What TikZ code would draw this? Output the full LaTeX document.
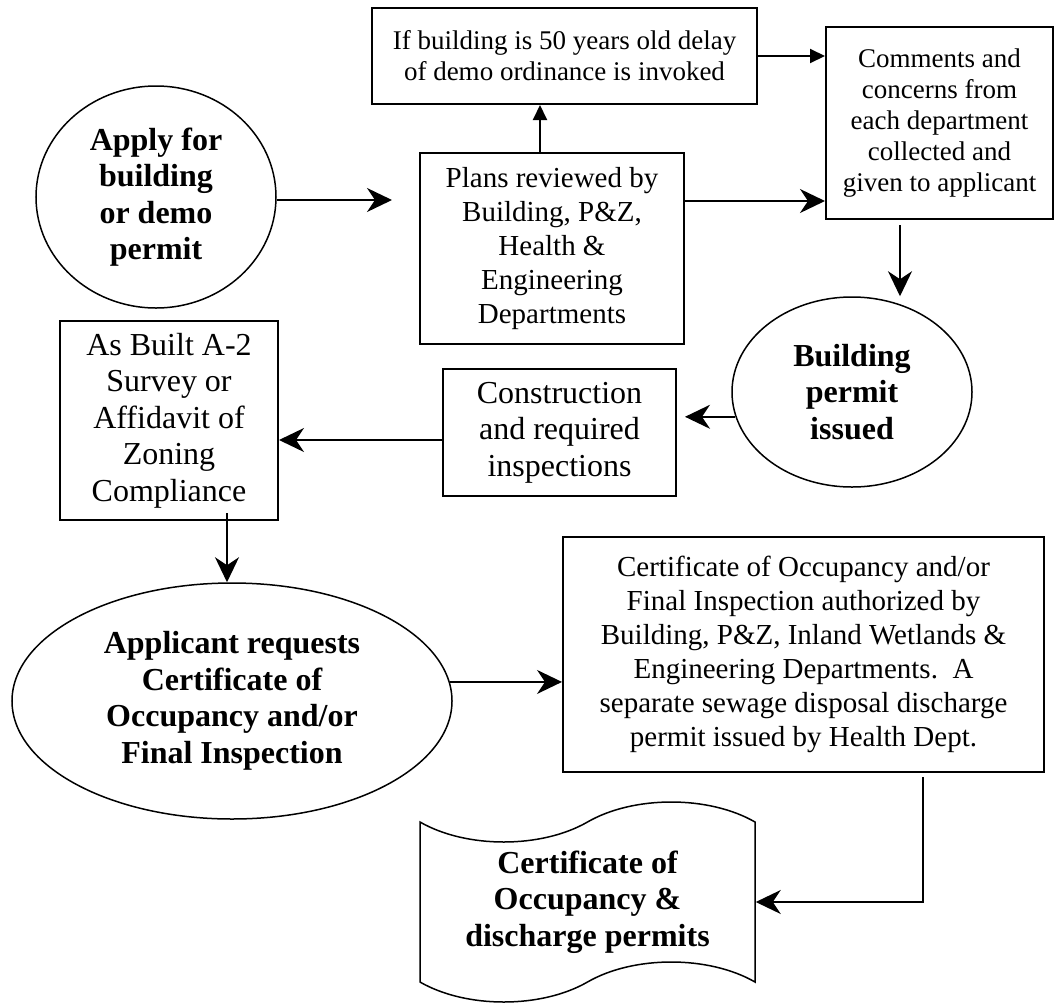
\documentclass[tikz,border=0pt]{standalone}
\usepackage{fontspec}
\setmainfont{Liberation Serif}
\usepackage{tikz}
\usetikzlibrary{positioning, arrows.meta, shapes.geometric, shapes.symbols}

\begin{document}
\begin{tikzpicture}[
    x=1bp, y=-1bp, % pixel units, y runs down
    box/.style={draw, line width=2bp, align=center, inner sep=0pt},
    oval/.style={ellipse, draw, line width=1.5bp, align=center, inner sep=0pt, font=\bfseries\fontsize{32bp}{36.5bp}\selectfont},
    scroll/.style={tape, draw, line width=1.5bp, align=center, inner sep=0pt, tape bend top=in and out, tape bend bottom=in and out, tape bend height=40bp, font=\bfseries\fontsize{32bp}{36.5bp}\selectfont},
    bigtext/.style={font=\fontsize{32bp}{36.5bp}\selectfont},
    midtext/.style={font=\fontsize{29bp}{34bp}\selectfont},
    smalltext/.style={font=\fontsize{27bp}{31bp}\selectfont},
    flow/.style={line width=1.5bp, -{Stealth[length=25bp, width=24bp, inset=8bp]}},
    thinflow/.style={line width=2bp, -{Triangle[length=15bp, width=14bp]}}
]
    \useasboundingbox (0,0) rectangle (1055,1003);

    % Place the nodes
    \node[oval, minimum width=240bp, minimum height=222bp] (apply) at (156,197) {Apply for\\building\\or demo\\permit};
    \node[box, smalltext, minimum width=385bp, minimum height=96bp] (delay) at (564.5,56) {If building is 50 years old delay\\of demo ordinance is invoked};
    \node[box, midtext, minimum width=264bp, minimum height=191bp] (plans) at (552,248.5) {Plans reviewed by\\Building, P\&Z,\\Health \&\\Engineering\\Departments};
    \node[box, smalltext, minimum width=227bp, minimum height=192bp] (comments) at (939.5,123) {Comments and\\concerns from\\each department\\collected and\\given to applicant};
    \node[oval, minimum width=240bp, minimum height=190bp] (issued) at (852,392) {Building\\permit\\issued};
    \node[box, bigtext, minimum width=233bp, minimum height=127bp] (construct) at (559.5,432.5) {Construction\\and required\\inspections};
    \node[box, bigtext, minimum width=218bp, minimum height=199bp] (asbuilt) at (169,420.5) {As Built A-2\\Survey or\\Affidavit of\\Zoning\\Compliance};
    \node[oval, minimum width=440bp, minimum height=236bp] (request) at (232,701) {Applicant requests\\Certificate of\\Occupancy and/or\\Final Inspection};
    \node[box, midtext, minimum width=481bp, minimum height=235bp] (certify) at (803.5,654.5) {Certificate of Occupancy and/or\\Final Inspection authorized by\\Building, P\&Z, Inland Wetlands \&\\Engineering Departments.~~A\\separate sewage disposal discharge\\permit issued by Health Dept.};
    \node[scroll, minimum width=335bp, minimum height=200bp] (permits) at (587.5,902) {Certificate of\\Occupancy \&\\discharge permits};

    % Draw the arrows
    \draw[flow, shorten >=27bp] ([yshift=-3bp]apply.east) -- ([yshift=-3bp]apply.east -| plans.west);
    \draw[thinflow] ([xshift=-12bp]plans.north) -- ([xshift=-12bp]plans.north |- delay.south);
    \draw[thinflow] (delay.east) -- (delay.east -| comments.west);
    \draw[flow] ([yshift=47.5bp]plans.east) -- ([yshift=47.5bp]plans.east -| comments.west);
    \draw[flow] ([xshift=-39.5bp,yshift=-5bp]comments.south) -- ([xshift=-39.5bp]comments.south |- issued.north);
    \draw[flow, shorten >=8bp] (issued.192) -- (issued.192 -| construct.east);
    \draw[flow] ([yshift=-7.5bp]construct.west) -- ([yshift=-7.5bp]construct.west -| asbuilt.east);
    \draw[flow] ([xshift=58bp,yshift=8bp]asbuilt.south) -- ([xshift=58bp]asbuilt.south |- request.north);
    \draw[flow] (request.5.5) -- (request.5.5 -| certify.west);
    \draw[flow] ([xshift=119.5bp,yshift=-4bp]certify.south) |- (permits.east);
\end{tikzpicture}
\end{document}
